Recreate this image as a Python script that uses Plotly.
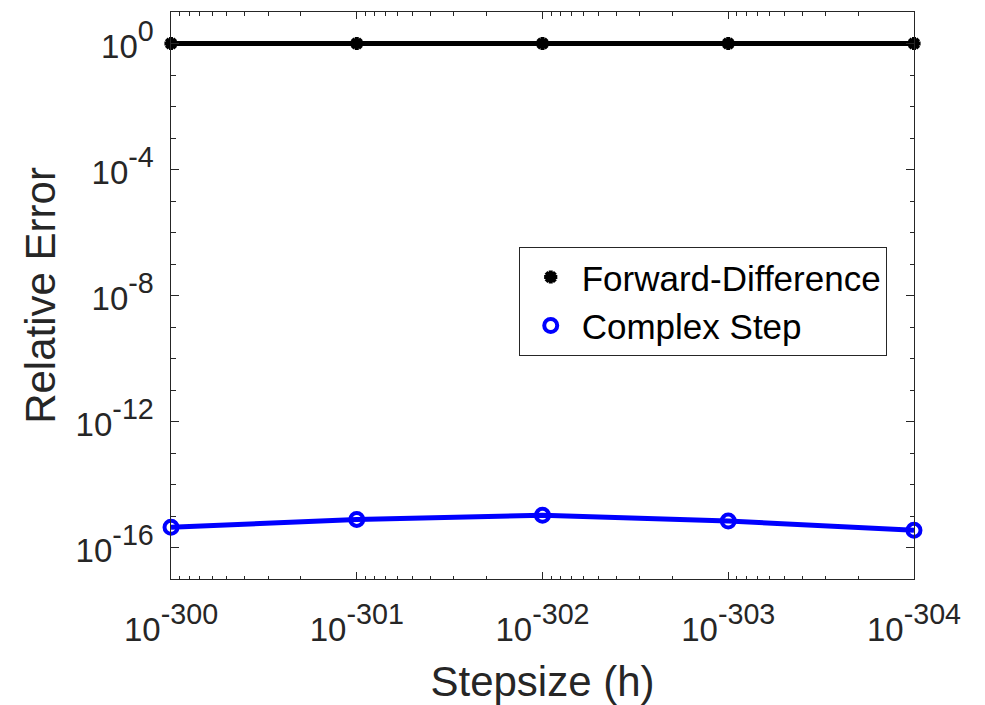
import plotly.graph_objects as go

# Data
stepsize = [1e-300, 1e-301, 1e-302, 1e-303, 1e-304]
x_tick_exps = [-300, -301, -302, -303, -304]
forward_difference = [1.0, 1.0, 1.0, 1.0, 1.0]
complex_step = [4.4e-16, 7.8e-16, 1.05e-15, 6.9e-16, 3.5e-16]
y_major_exps = [0, -4, -8, -12, -16]
y_minor_exps = list(range(1, -18, -1))

axis_color = "#262626"
font_family = "Liberation Sans, Arial, Helvetica, sans-serif"
BASE = 33   # size of the "10"
TICK = 41   # tick font size -> superscript is 70% of this


def pow10_label(e):
    return "<span style='font-size:%dpx'>10</span><sup>%d</sup>" % (BASE, e)


fig = go.Figure()

# lines
fig.add_trace(go.Scatter(x=stepsize, y=forward_difference, mode="lines",
                         line=dict(color="black", width=5), showlegend=False,
                         hoverinfo="skip"))
fig.add_trace(go.Scatter(x=stepsize, y=complex_step, mode="lines",
                         line=dict(color="#0000ff", width=5), showlegend=False,
                         hoverinfo="skip"))
# markers (legend entries)
fig.add_trace(go.Scatter(x=stepsize, y=forward_difference, mode="markers",
                         name="Forward-Difference",
                         marker=dict(symbol="asterisk-open", size=11, color="black",
                                     line=dict(color="black", width=4)),
                         cliponaxis=False))
fig.add_trace(go.Scatter(x=stepsize, y=complex_step, mode="markers",
                         name="Complex Step",
                         marker=dict(symbol="circle-open", size=13, color="#0000ff",
                                     line=dict(color="#0000ff", width=4)),
                         cliponaxis=False))

x_minor = []
for e in range(-300, -304, -1):
    for m in range(2, 10):
        x_minor.append(m * 10.0 ** (e - 1))

fig.update_layout(
    width=977, height=697,
    margin=dict(l=163, r=71, t=4, b=126, autoexpand=False),
    paper_bgcolor="white", plot_bgcolor="white",
    font=dict(family=font_family, color=axis_color),
    xaxis=dict(
        type="log", range=[-299.9999, -304.0001], automargin=False,
        tickmode="array", tickvals=stepsize,
        ticktext=[pow10_label(e) for e in x_tick_exps],
        ticks="inside", ticklen=7, tickwidth=1, tickcolor=axis_color,
        minor=dict(tickmode="array", tickvals=x_minor, ticks="inside",
                   ticklen=3.5, tickwidth=1, tickcolor=axis_color, showgrid=False),
        showline=True, linecolor=axis_color, linewidth=1, mirror="allticks",
        showgrid=False, zeroline=False,
        tickfont=dict(size=TICK, color=axis_color),
        ticklabelstandoff=12,
        title=dict(text="Stepsize (h)", font=dict(size=42, color=axis_color), standoff=22),
    ),
    yaxis=dict(
        type="log", range=[-17, 1], automargin=False,
        tickmode="array", tickvals=[10.0 ** e for e in y_major_exps],
        ticktext=[pow10_label(e) for e in y_major_exps],
        ticks="inside", ticklen=8, tickwidth=1, tickcolor=axis_color,
        minor=dict(tickmode="array", tickvals=[10.0 ** e for e in y_minor_exps],
                   ticks="inside", ticklen=4.5, tickwidth=1, tickcolor=axis_color,
                   showgrid=False),
        showline=True, linecolor=axis_color, linewidth=1, mirror="allticks",
        showgrid=False, zeroline=False,
        tickfont=dict(size=TICK, color=axis_color),
        ticklabelstandoff=8,
        title=dict(text="Relative Error", font=dict(size=42, color=axis_color), standoff=6),
    ),
    legend=dict(
        x=0.468, y=0.586, xanchor="left", yanchor="top",
        bgcolor="white", bordercolor=axis_color, borderwidth=1,
        font=dict(size=35, color="black", family=font_family),
        itemsizing="trace", tracegroupgap=0, itemwidth=52,
    ),
)

fig.write_html("out.html")
